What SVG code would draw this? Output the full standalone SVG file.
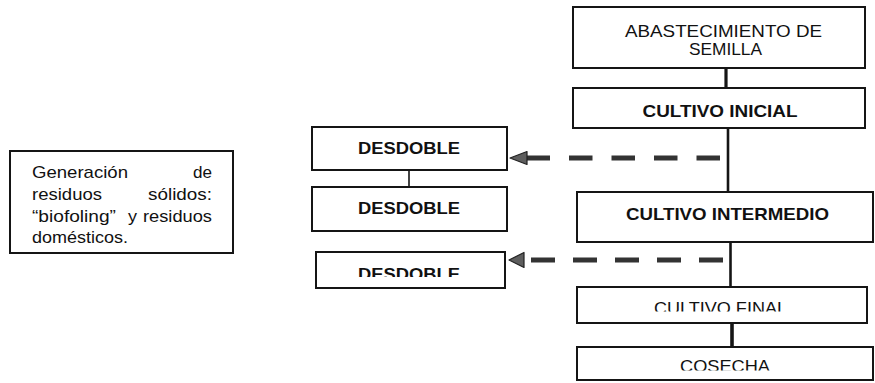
<svg xmlns="http://www.w3.org/2000/svg" width="875" height="383" viewBox="0 0 875 383">
<style>
.box{fill:#fff;stroke:#151515;stroke-width:2}
.t{font-family:"Liberation Sans",Arial,sans-serif;font-size:17px;fill:#111}
.b{font-weight:bold}
.solid{stroke:#151515;fill:none}
.dash{stroke:#333;stroke-width:5;fill:none}
.head{fill:#5e5e5e;stroke:#222;stroke-width:1.2;stroke-linejoin:round}
</style>
<defs>
<clipPath id="cFinal"><rect x="570" y="280" width="305" height="31.5"/></clipPath>
<clipPath id="cCosecha"><rect x="570" y="340" width="305" height="30.5"/></clipPath>
<clipPath id="cDes3"><rect x="310" y="245" width="200" height="32"/></clipPath>
</defs>
<rect width="875" height="383" fill="#fff"/>

<g id="connectors">
<line class="solid" x1="726" y1="68" x2="726" y2="88" stroke-width="3.2"/>
<line class="solid" x1="728" y1="128" x2="728" y2="192" stroke-width="2.6"/>
<line class="solid" x1="730.5" y1="242" x2="730.5" y2="287" stroke-width="2.6"/>
<line class="solid" x1="732" y1="323" x2="732" y2="347" stroke-width="3.6"/>
<line class="solid" x1="409" y1="170" x2="409" y2="187" stroke-width="1.6"/>
<line class="dash" x1="720" y1="158" x2="522" y2="158" stroke-dasharray="23.5 19"/>
<polygon class="head" points="510,158 527,151.5 527,164.5"/>
<line class="dash" x1="723" y1="260" x2="520" y2="260" stroke-dasharray="24 18"/>
<polygon class="head" points="509,260 524,252.5 524,267.5"/>
</g>

<g id="abastecimiento">
<rect class="box" x="573" y="7" width="292" height="61"/>
<text class="t" x="723.5" y="37" text-anchor="middle" textLength="197" lengthAdjust="spacingAndGlyphs">ABASTECIMIENTO DE</text>
<text class="t" x="725.5" y="55" text-anchor="middle" textLength="73" lengthAdjust="spacingAndGlyphs">SEMILLA</text>
</g>

<g id="cultivo-inicial">
<rect class="box" x="573" y="88" width="292" height="40"/>
<text class="t b" x="720" y="117" text-anchor="middle" textLength="155" lengthAdjust="spacingAndGlyphs">CULTIVO INICIAL</text>
</g>

<g id="cultivo-intermedio">
<rect class="box" x="577" y="192" width="296" height="50"/>
<text class="t b" x="727.5" y="220" text-anchor="middle" textLength="203" lengthAdjust="spacingAndGlyphs">CULTIVO INTERMEDIO</text>
</g>

<g id="cultivo-final">
<rect class="box" x="577" y="287" width="290" height="36"/>
<text class="t" x="720.5" y="314.2" text-anchor="middle" textLength="133" lengthAdjust="spacingAndGlyphs" clip-path="url(#cFinal)">CULTIVO FINAL</text>
</g>

<g id="cosecha">
<rect class="box" x="577" y="347" width="296" height="33"/>
<text class="t" x="725" y="372.4" text-anchor="middle" textLength="90" lengthAdjust="spacingAndGlyphs" clip-path="url(#cCosecha)">COSECHA</text>
</g>

<g id="desdoble-1">
<rect class="box" x="312" y="127" width="195" height="43"/>
<text class="t b" x="409" y="153.5" text-anchor="middle" textLength="102" lengthAdjust="spacingAndGlyphs">DESDOBLE</text>
</g>

<g id="desdoble-2">
<rect class="box" x="312" y="187" width="195" height="44"/>
<text class="t b" x="409" y="214" text-anchor="middle" textLength="102" lengthAdjust="spacingAndGlyphs">DESDOBLE</text>
</g>

<g id="desdoble-3">
<rect class="box" x="316" y="252" width="189" height="36"/>
<text class="t b" x="409" y="280.2" text-anchor="middle" textLength="102" lengthAdjust="spacingAndGlyphs" clip-path="url(#cDes3)">DESDOBLE</text>
</g>

<g id="residuos">
<rect class="box" x="10" y="151" width="223" height="102"/>
<text class="t" x="32" y="178" textLength="96" lengthAdjust="spacingAndGlyphs">Generación</text>
<text class="t" x="212" y="178" text-anchor="end" textLength="19" lengthAdjust="spacingAndGlyphs">de</text>
<text class="t" x="32" y="200" textLength="70" lengthAdjust="spacingAndGlyphs">residuos</text>
<text class="t" x="212" y="200" text-anchor="end" textLength="64" lengthAdjust="spacingAndGlyphs">sólidos:</text>
<text class="t" x="32" y="222" textLength="84" lengthAdjust="spacingAndGlyphs">“biofoling”</text>
<text class="t" x="128" y="222" textLength="9" lengthAdjust="spacingAndGlyphs">y</text>
<text class="t" x="212" y="222" text-anchor="end" textLength="69" lengthAdjust="spacingAndGlyphs">residuos</text>
<text class="t" x="32" y="243" textLength="96" lengthAdjust="spacingAndGlyphs">domésticos.</text>
</g>
</svg>
